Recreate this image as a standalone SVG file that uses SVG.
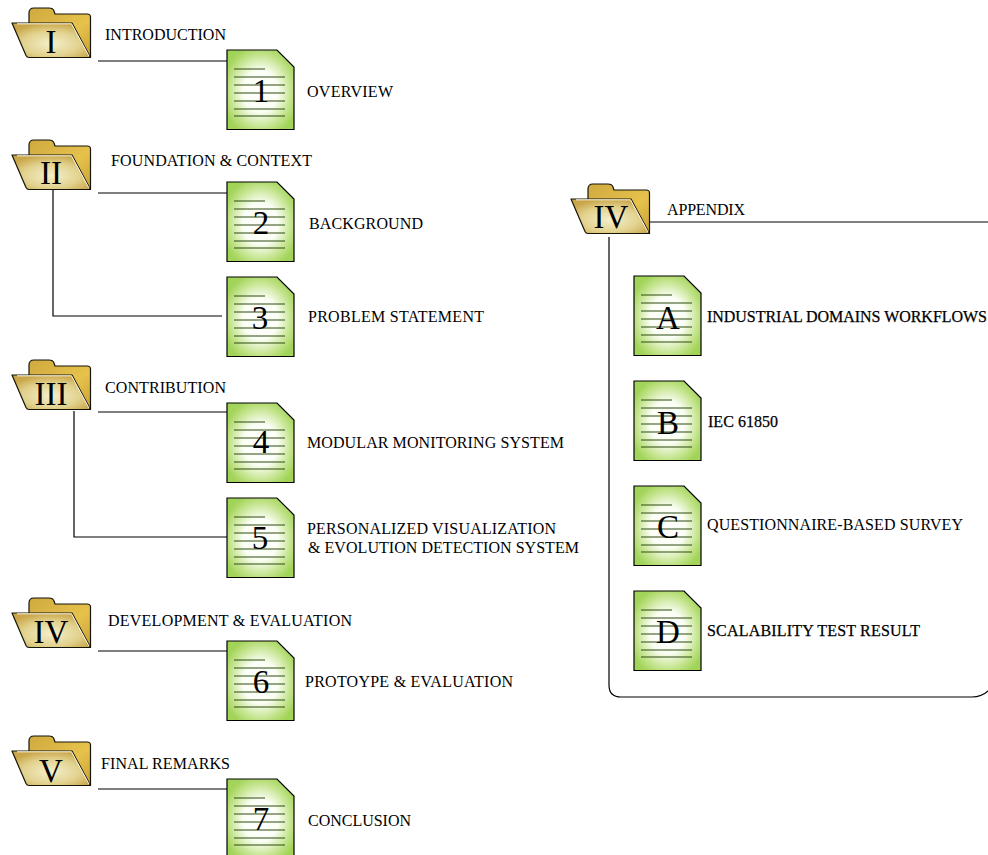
<svg xmlns="http://www.w3.org/2000/svg" width="988" height="855" viewBox="0 0 988 855">
<style>
text{font-family:"Liberation Serif","Times New Roman",serif;fill:#000}
.l{font-size:16px;transform:translateY(.6px)}
.d{stroke:#000;stroke-width:.25px}
.n{font-size:33px;text-anchor:middle}
.c{fill:none;stroke:#000;stroke-width:1.2}
.o{stroke:#14140a;stroke-width:1.2;stroke-linejoin:round}
.r{stroke:#2c4a10;stroke-width:1;fill:none}
</style>
<defs>
<linearGradient id="fb" x1="0" y1="0" x2="1" y2="1"><stop offset="0" stop-color="#cfa93f"/><stop offset=".6" stop-color="#e6c24c"/><stop offset="1" stop-color="#c9a035"/></linearGradient>
<radialGradient id="ff" cx=".5" cy=".6" r=".6"><stop offset="0" stop-color="#f4efcc"/><stop offset=".6" stop-color="#e2d28e"/><stop offset="1" stop-color="#c9a64a"/></radialGradient>
<radialGradient id="dg" cx=".5" cy=".52" r=".58"><stop offset="0" stop-color="#fff"/><stop offset=".45" stop-color="#fbfef5"/><stop offset=".8" stop-color="#c2e38a"/><stop offset="1" stop-color="#a3d45a"/></radialGradient>
<g id="folder">
<path class="o" fill="url(#fb)" d="M29,30V13Q29,8 34,8H49Q53,8 54,11L55,14H87Q90.500,14 90.500,17V57.500H40Z"/>
<path class="o" fill="url(#ff)" d="M12,23H72L90.500,57.500H29Q27,57.500 26,55.500Z"/>
<path d="M17,23.800H71.500L89,56" fill="none" stroke="#fffbe8" stroke-width="1"/>
</g>
<g id="doc">
<path fill="url(#dg)" stroke="#000" stroke-width="1.2" d="M0,0H50L67,17V79.500H0Z"/>
<path class="r" d="M7,19H38M7,27H58M7,35H58M7,43H58M7,51H58M7,59H58M7,66H58"/>
</g>
</defs>
<g id="connectors">
<path class="c" d="M98,61H227M98,193H227M53,190V316H222M98,412H227M74,411V537H227M98,651H227M98,789H227"/>
<path class="c" d="M650,222H988M609,237V685Q609,697 621,697H972Q982,697 988,691"/>
</g>
<g id="folder-I"><use href="#folder"/><text class="n" x="51" y="53">I</text><text class="l" x="105" y="39" textLength="121">INTRODUCTION</text></g>
<g id="doc-1"><use href="#doc" x="227" y="50"/><text class="n" x="261" y="102">1</text><text class="l" x="307" y="96" textLength="86">OVERVIEW</text></g>
<g id="folder-II"><use href="#folder" y="132"/><text class="n" x="51" y="184">II</text><text class="l" x="111" y="165" textLength="201">FOUNDATION &amp; CONTEXT</text></g>
<g id="doc-2"><use href="#doc" x="227" y="182"/><text class="n" x="261" y="234">2</text><text class="l" x="309" y="228" textLength="114">BACKGROUND</text></g>
<g id="doc-3"><use href="#doc" x="227" y="277"/><text class="n" x="260" y="329">3</text><text class="l" x="308" y="321" textLength="176">PROBLEM STATEMENT</text></g>
<g id="folder-III"><use href="#folder" y="352"/><text class="n" x="51" y="405">III</text><text class="l" x="105" y="392" textLength="121">CONTRIBUTION</text></g>
<g id="doc-4"><use href="#doc" x="227" y="403"/><text class="n" x="261" y="453">4</text><text class="l" x="307" y="447" textLength="257">MODULAR MONITORING SYSTEM</text></g>
<g id="doc-5"><use href="#doc" x="227" y="498"/><text class="n" x="260" y="549">5</text><text class="l" x="307" y="533" textLength="249">PERSONALIZED VISUALIZATION</text><text class="l" x="308" y="552" textLength="271">&amp; EVOLUTION DETECTION SYSTEM</text></g>
<g id="folder-IV"><use href="#folder" y="590"/><text class="n" x="51" y="643">IV</text><text class="l" x="108" y="625" textLength="244">DEVELOPMENT &amp; EVALUATION</text></g>
<g id="doc-6"><use href="#doc" x="227" y="641"/><text class="n" x="261" y="693">6</text><text class="l" x="305" y="686" textLength="208">PROTOYPE &amp; EVALUATION</text></g>
<g id="folder-V"><use href="#folder" y="728"/><text class="n" x="51" y="782">V</text><text class="l" x="101" y="768" textLength="129">FINAL REMARKS</text></g>
<g id="doc-7"><use href="#doc" x="227" y="779"/><text class="n" x="261" y="830">7</text><text class="l" x="308" y="825" textLength="103">CONCLUSION</text></g>
<g id="folder-appendix"><use href="#folder" x="559" y="176"/><text class="n" x="611" y="228">IV</text><text class="l" x="667" y="214" textLength="78">APPENDIX</text></g>
<g id="doc-A"><use href="#doc" x="634" y="276"/><text class="n" x="668" y="329">A</text><text class="l d" x="707" y="321" textLength="280">INDUSTRIAL DOMAINS WORKFLOWS</text></g>
<g id="doc-B"><use href="#doc" x="634" y="381"/><text class="n" x="668" y="434">B</text><text class="l d" x="708" y="426" textLength="70">IEC 61850</text></g>
<g id="doc-C"><use href="#doc" x="634" y="486"/><text class="n" x="668" y="538">C</text><text class="l" x="707" y="529" textLength="256">QUESTIONNAIRE-BASED SURVEY</text></g>
<g id="doc-D"><use href="#doc" x="634" y="591"/><text class="n" x="668" y="643">D</text><text class="l d" x="707" y="635" textLength="213">SCALABILITY TEST RESULT</text></g>
</svg>
